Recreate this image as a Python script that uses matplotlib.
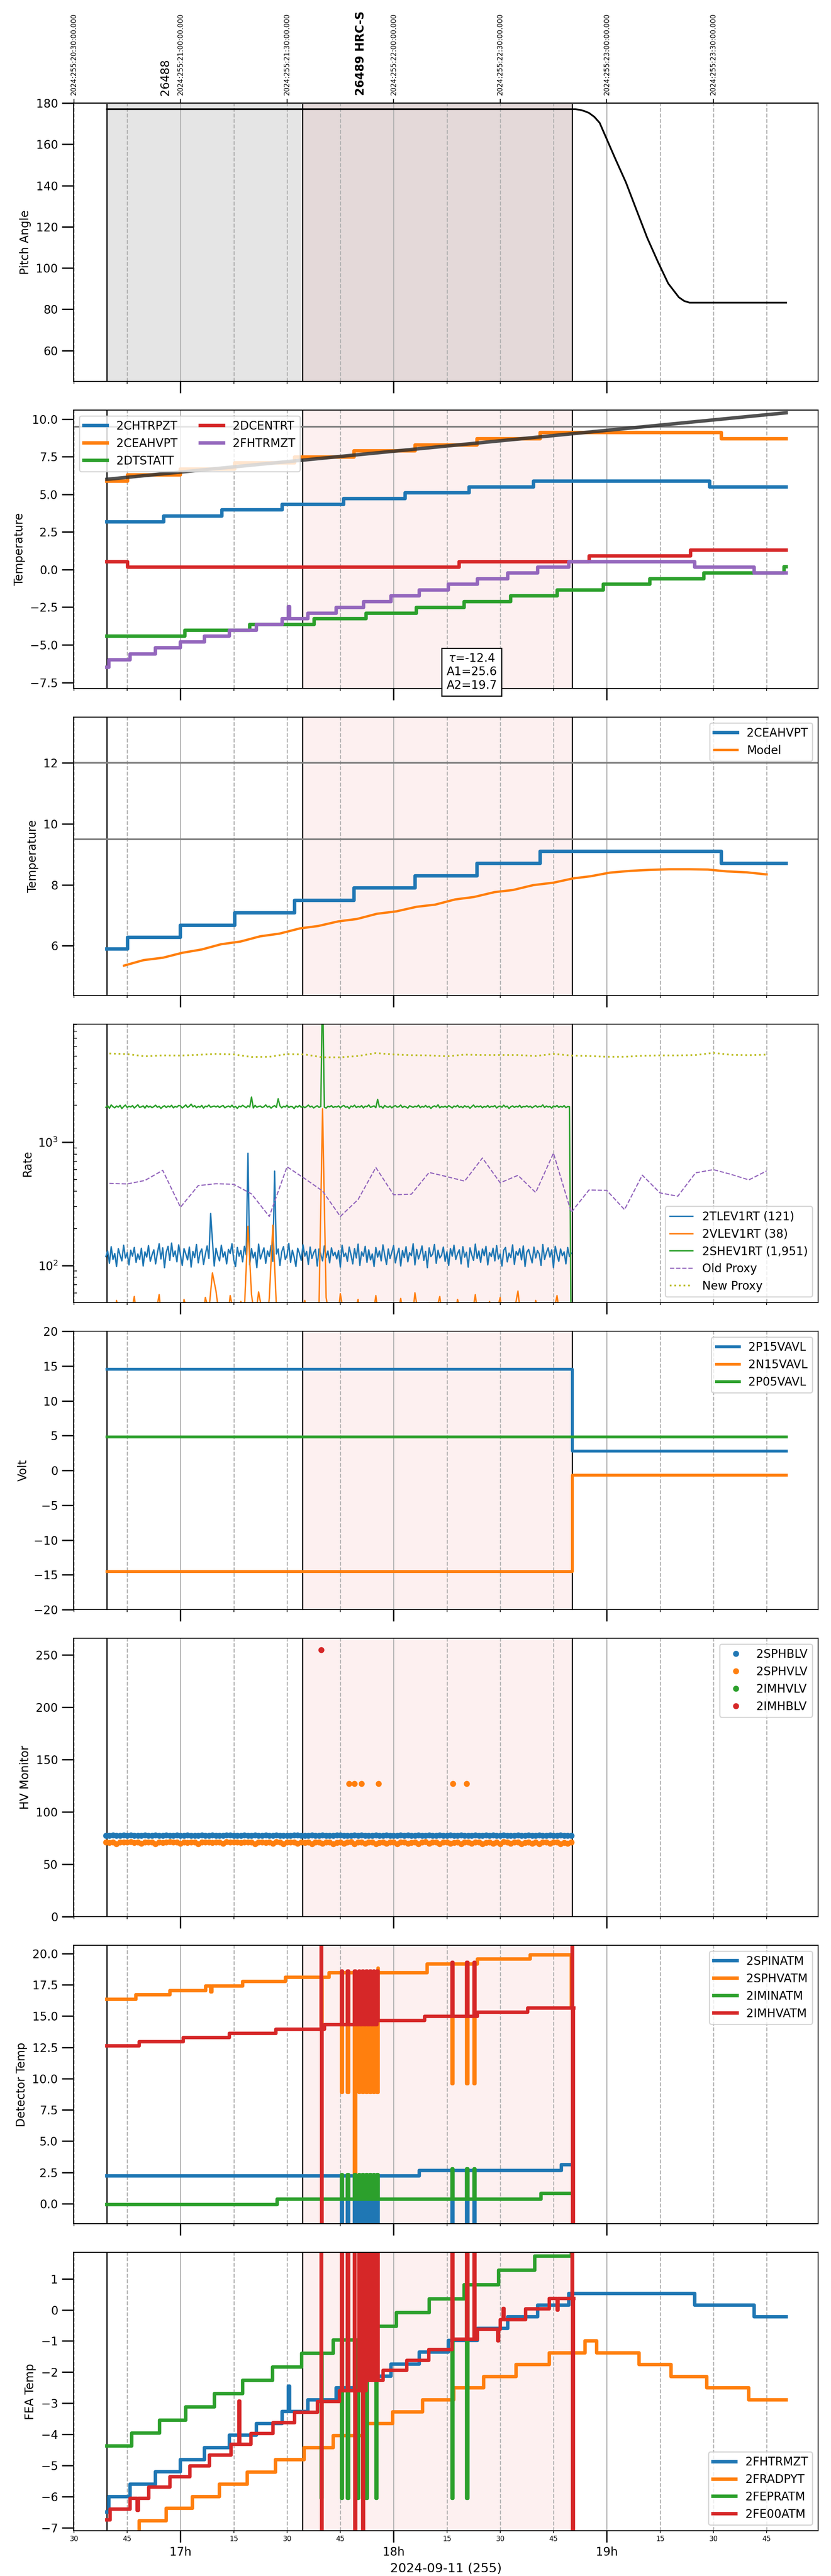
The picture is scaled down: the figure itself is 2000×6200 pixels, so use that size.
# HRC housekeeping dashboard around obsid 26489 (HRC-S), 2024-09-11

import matplotlib
matplotlib.use("Agg")
import matplotlib.pyplot as plt
import matplotlib.dates as mdates
import matplotlib.ticker as mticker
import numpy as np
import pandas as pd

# all times are minutes after 2024-09-11 16:30 local time (UTC-4)
t_start = pd.Timestamp("2024-09-11 16:30")
utc_offset_hours = 4
x_range = [-0.1, 209.5]

obs_edges = [9.3, 64.4, 140.2]
obs_names = ["26488", "26489 HRC-S"]
obs_name_t = [25.7, 80.7]

# pitch angle
pitch_t = [9.3, 141.2, 142.5, 143.7, 145.0, 146.5, 148.0, 150.2, 152.4, 155.4, 158.4,
           161.4, 164.4, 167.3, 170.3, 171.8, 173.3, 200.5]
pitch_v = [177.0, 177.0, 176.7, 176.1, 175.2, 173.3, 170.4, 161.7, 153.0, 141.5, 128.0,
           114.6, 103.0, 92.5, 85.8, 84.0, 83.2, 83.2]

# temperatures (step changes)
chtrpzt_t = [9.3, 25.3, 41.7, 58.6, 75.9, 93.2, 111.2, 129.4, 179.0, 200.5]
chtrpzt_v = [3.17, 3.56, 3.96, 4.34, 4.72, 5.11, 5.50, 5.89, 5.50, 5.50]
ceahvpt_t = [9.3, 15.1, 30.0, 45.3, 62.1, 78.8, 96.0, 113.5, 131.2, 182.3, 200.5]
ceahvpt_v = [5.89, 6.28, 6.67, 7.08, 7.49, 7.90, 8.29, 8.70, 9.10, 8.70, 8.70]
dtstatt_t = [9.3, 31.2, 49.5, 67.6, 82.3, 96.4, 109.9, 122.9, 136.0, 149.0, 162.1, 177.3, 199.9, 200.5]
dtstatt_v = [-4.43, -4.03, -3.65, -3.27, -2.89, -2.51, -2.13, -1.74, -1.36, -0.98, -0.60, -0.22, 0.18, 0.18]
dcentrt_t = [9.3, 15.1, 108.5, 145.0, 173.6, 200.5]
dcentrt_v = [0.53, 0.15, 0.53, 0.91, 1.29, 1.29]
fhtrmzt_t = [9.3, 9.9, 15.8, 22.9, 30.0, 36.7, 43.8, 51.4, 58.6, 65.9, 73.8, 81.5, 89.3, 97.2,
             105.4, 113.6, 122.1, 130.6, 139.3, 174.8, 191.5, 200.5]
fhtrmzt_v = [-6.5, -6.0, -5.6, -5.2, -4.82, -4.43, -4.03, -3.65, -3.27, -2.89, -2.51, -2.13,
             -1.74, -1.36, -0.98, -0.60, -0.22, 0.16, 0.53, 0.16, -0.22, -0.22]
fhtrmzt_gt = [60.4]
fhtrmzt_gv = [-2.45]
trend_t = [9.3, 200.5]
trend_v = [6.0, 10.42]
fit_text = "$\\tau$=-12.4\nA1=25.6\nA2=19.7"
fit_text_t = 112.0

# thermal model for 2CEAHVPT
model_t = [14.1, 19.6, 25.1, 30.5, 36.0, 41.4, 46.9, 52.4, 57.9, 63.6, 68.8, 74.4, 79.7, 85.3,
           90.8, 96.5, 101.7, 107.3, 112.6, 118.4, 123.6, 129.3, 135.0, 140.5, 145.4, 150.9,
           156.9, 162.1, 167.6, 173.3, 178.5, 183.8, 189.4, 195.0]
model_v = [5.35, 5.53, 5.61, 5.77, 5.88, 6.05, 6.14, 6.31, 6.40, 6.57, 6.65, 6.80, 6.88, 7.05,
           7.13, 7.28, 7.35, 7.52, 7.60, 7.76, 7.83, 7.99, 8.07, 8.21, 8.28, 8.40, 8.46, 8.49,
           8.51, 8.51, 8.50, 8.44, 8.41, 8.34]

# rates from 16:39; tlev and shev every 30 s, vlev every minute
rate_t0 = 9.0
tlev = [118, 131, 104, 142, 112, 125, 98, 137, 121, 109,
        146, 115, 127, 101, 133, 119, 140, 106, 124, 112,
        138, 99, 129, 117, 145, 108, 122, 134, 103, 126,
        150, 113, 139, 96, 128, 143, 110, 152, 118, 131,
        107, 147, 121, 100, 137, 124, 111, 141, 97, 130,
        116, 148, 105, 127, 136, 102, 123, 144, 114, 264,
        158, 99, 138, 120, 109, 146, 117, 129, 103, 135,
        125, 150, 111, 98, 140, 119, 132, 107, 143, 122,
        815, 101, 137, 115, 128, 96, 149, 113, 126, 139,
        104, 131, 118, 145, 108, 583, 124, 136, 100, 129,
        142, 112, 121, 151, 106, 133, 117, 98, 138, 125,
        110, 147, 119, 130, 102, 141, 114, 127, 135, 99,
        136, 123, 109, 144, 116, 131, 105, 139, 120, 128,
        113, 132, 97, 146, 118, 126, 108, 141, 122, 103,
        137, 115, 149, 100, 129, 119, 143, 106, 134, 111,
        124, 98, 140, 117, 131, 109, 147, 121, 102, 136,
        114, 128, 145, 105, 123, 138, 99, 132, 116, 142,
        107, 127, 120, 150, 101, 135, 113, 126, 144, 110,
        130, 96, 139, 118, 124, 148, 104, 133, 115, 121,
        141, 108, 129, 100, 137, 119, 146, 112, 125, 134,
        103, 142, 117, 128, 97, 139, 122, 110, 149, 114,
        131, 106, 136, 120, 143, 101, 127, 118, 138, 109,
        145, 113, 124, 99, 133, 140, 107, 126, 116, 147,
        102, 130, 121, 137, 111, 144, 98, 128, 135, 119,
        105, 141, 115, 132, 124, 100, 148, 112, 127, 139,
        117, 134, 96, 143, 122, 108, 136, 120, 129, 103,
        140, 118, 126]
vlev = [34, 41, 29, 52, 37, 45, 31, 39, 56, 33,
        42, 28, 47, 36, 40, 58, 30, 44, 35, 49,
        38, 26, 53, 41, 33, 46, 39, 31, 55, 43,
        87, 62, 37, 48, 32, 57, 40, 35, 51, 44,
        208, 58, 36, 61, 42, 30, 54, 212, 47, 39,
        33, 45, 38, 50, 29, 43, 52, 36, 41, 34,
        48, 1870, 55, 37, 44, 31, 59, 40, 35, 47,
        42, 53, 30, 39, 46, 36, 57, 33, 41, 49,
        28, 44, 38, 54, 35, 42, 31, 60, 39, 45,
        34, 50, 37, 43, 56, 32, 40, 47, 36, 53,
        41, 29, 46, 38, 58, 33, 44, 35, 51, 39,
        42, 55, 31, 48, 37, 43, 62, 34, 40, 46,
        36, 52, 39, 45, 30, 49, 41, 57, 35, 44,
        38, 43]
shev = [1925, 1980, 1890, 2010, 1945, 1905, 1970, 1930, 1995, 1880,
        1950, 2005, 1915, 1960, 1935, 1985, 1900, 1955, 2015, 1920,
        1940, 1975, 1895, 1990, 1930, 1965, 1910, 1950, 2000, 1925,
        1960, 1885, 1945, 1980, 1915, 1970, 1935, 1995, 1905, 1955,
        1930, 1990, 1975, 1900, 1950, 2010, 1920, 1960, 2040, 1940,
        1985, 1910, 1955, 1930, 1990, 1895, 1965, 1945, 2005, 1925,
        1950, 1970, 1935, 1975, 1915, 1960, 1990, 1905, 1945, 1970,
        1930, 2000, 1920, 1955, 1885, 1965, 1940, 1995, 1950, 1910,
        1980, 1935, 2330, 1900, 1995, 1925, 1955, 1970, 1915, 1945,
        2010, 1930, 1965, 1895, 1950, 1985, 1920, 2255, 1975, 1905,
        1960, 1935, 2000, 1915, 1955, 1945, 1880, 1970, 1930, 1990,
        1925, 1960, 1910, 1950, 2005, 1935, 1965, 1900, 1945, 1980,
        1920, 1955, 20000, 1930, 1895, 1960, 1940, 1985, 1915, 1950,
        1935, 1975, 1905, 1960, 1990, 1925, 1950, 1880, 1970, 1940,
        2000, 1915, 1955, 1930, 1985, 1900, 1965, 1945, 2010, 1920,
        1950, 1975, 1910, 2230, 1935, 1960, 1895, 1990, 1940, 1925,
        1970, 1905, 1955, 1985, 1930, 1945, 2005, 1915, 1960, 1935,
        1895, 1980, 1950, 1920, 1965, 1940, 2000, 1910, 1955, 1930,
        1990, 1925, 1960, 1885, 1945, 1975, 1935, 2015, 1905, 1950,
        1930, 1965, 1915, 1985, 1945, 1900, 1970, 1940, 1995, 1920,
        1955, 1910, 1980, 1935, 1960, 1890, 1950, 2005, 1925, 1965,
        1940, 1975, 1905, 1955, 1930, 1990, 1915, 1960, 1945, 1985,
        1900, 1950, 1970, 1925, 2000, 1935, 1965, 1880, 1945, 1975,
        1920, 1960, 1935, 1995, 1910, 1955, 1940, 1980, 1930, 1965,
        1905, 1950, 1985, 1925, 1960, 1945, 2010, 1915, 1970, 1935,
        1955, 1895, 1975, 1940, 1990, 1920, 1960, 1930, 1985, 1910,
        1950, 1945, 20]
# proxies, every 5 minutes from 16:40
proxy_t0 = 10.0
old_proxy = [464, 459, 490, 592, 297, 445, 461, 456, 381, 250, 633, 507, 402, 250, 343, 624,
             375, 379, 569, 526, 484, 746, 469, 539, 391, 816, 270, 410, 407, 284, 541, 388,
             365, 565, 600, 549, 495, 585]
new_proxy = [5260, 5200, 4990, 5075, 5060, 5130, 5220, 5165, 4930, 4945, 5200, 5165, 4895,
             4895, 5020, 5300, 5165, 5095, 5075, 4990, 5150, 5110, 5110, 5110, 5020, 5220,
             5060, 5020, 4945, 4945, 5040, 5075, 5075, 5110, 5320, 5130, 5095, 5150]

# voltages
volt_t = [9.3, 140.3, 200.5]
p15_v = [14.54, 2.8, 2.8]
n15_v = [-14.49, -0.63, -0.63]
p05_v = [4.86, 4.86, 4.86]

# HV monitors, one sample per minute from 16:39
hv_t0 = 9.0
sphblv = [77.6, 77.4, 77.8, 77.5, 77.3, 77.7, 77.5, 77.9, 77.4, 77.6,
          77.5, 77.8, 77.3, 77.6, 77.7, 77.4, 77.5, 77.9, 77.6, 77.3,
          77.7, 77.5, 77.4, 77.8, 77.6, 77.5, 77.3, 77.7, 77.6, 77.4,
          77.8, 77.5, 77.6, 77.3, 77.7, 77.9, 77.5, 77.4, 77.6, 77.8,
          77.5, 77.3, 77.7, 77.6, 77.4, 77.8, 77.5, 77.6, 77.9, 77.4,
          77.6, 77.5, 77.3, 77.7, 77.8, 77.5, 77.4, 77.6, 77.7, 77.5,
          77.3, 77.8, 77.6, 77.4, 77.5, 77.7, 77.9, 77.5, 77.6, 77.4,
          77.7, 77.5, 77.8, 77.3, 77.6, 77.5, 77.7, 77.4, 77.6, 77.8,
          77.5, 77.6, 77.4, 77.7, 77.3, 77.8, 77.5, 77.6, 77.9, 77.5,
          77.4, 77.7, 77.6, 77.5, 77.8, 77.3, 77.6, 77.7, 77.4, 77.5,
          77.8, 77.6, 77.5, 77.3, 77.7, 77.4, 77.6, 77.9, 77.5, 77.7,
          77.6, 77.4, 77.8, 77.5, 77.3, 77.6, 77.7, 77.5, 77.4, 77.8,
          77.6, 77.5, 77.7, 77.3, 77.6, 77.8, 77.4, 77.5, 77.7, 77.6,
          77.5, 77.4]
sphvlv = [71.0, 70.8, 71.2, 69.6, 71.1, 70.9, 71.0, 71.3, 70.7, 71.1,
          69.7, 71.0, 70.9, 71.2, 69.6, 71.0, 70.8, 71.1, 71.3, 70.9,
          71.0, 69.7, 71.2, 70.8, 71.0, 71.1, 69.6, 70.9, 71.2, 71.0,
          70.8, 71.1, 71.0, 69.7, 71.3, 70.9, 71.0, 71.2, 70.8, 71.1,
          71.0, 70.9, 69.6, 71.2, 71.0, 70.8, 71.1, 69.7, 71.3, 71.0,
          69.6, 70.9, 71.1, 71.0, 69.7, 71.2, 70.8, 71.0, 69.6, 71.1,
          70.9, 69.7, 71.2, 71.0, 69.6, 70.8, 71.1, 69.7, 71.0, 71.3,
          69.6, 70.9, 71.1, 69.7, 71.0, 71.2, 69.6, 70.8, 71.0, 69.7,
          71.1, 70.9, 69.6, 71.2, 71.0, 69.7, 70.8, 71.1, 69.6, 71.0,
          71.3, 69.7, 70.9, 71.1, 69.6, 71.0, 71.2, 69.7, 70.8, 71.0,
          69.6, 71.1, 70.9, 69.7, 71.2, 71.0, 69.6, 70.8, 71.1, 69.7,
          71.0, 69.6, 71.3, 70.9, 69.7, 71.1, 71.0, 69.6, 70.8, 71.2,
          69.7, 71.0, 69.6, 71.1, 70.9, 69.7, 71.0, 71.2, 69.6, 70.8,
          69.7, 71.0]
sphvlv_extra_t = [77.4, 79.0, 80.9, 85.7, 106.7, 110.6]
sphvlv_extra_v = [127, 127, 127, 127, 127, 127]
imhvlv_t = []
imhvlv_v = []
imhblv_t = [69.6]
imhblv_v = [255]

# detector temperatures (steps plus telemetry glitches)
burst_t = [75.3, 77.0, 79.0, 80.2, 81.2, 82.3, 83.3, 84.3, 85.3]
late_t = [106.4, 110.6, 112.6]
spinatm_t = [9.3, 97.2, 137.2, 140.0]
spinatm_v = [2.21, 2.65, 3.13, 3.13]
spinatm_gv = [-6, -6, -6, -6, -6, -6, -6, -6, -6, -6, -6, -6]
sphvatm_t = [9.3, 17.5, 27.0, 37.1, 47.5, 59.6, 71.8, 85.6, 99.4, 113.6, 128.5, 140.0]
sphvatm_v = [16.35, 16.70, 17.05, 17.41, 17.76, 18.11, 18.46, 18.82, 19.17, 19.56, 19.90, 15.7]
sphvatm_gv = [8.9, 8.9, 2.3, 8.9, 8.9, 8.9, 8.9, 8.9, 8.9, 9.6, 9.6, 9.6]
sphvatm_xt = [38.5, 69.6]
sphvatm_xv = [16.95, 14.2]
iminatm_t = [9.3, 57.2, 131.5, 140.0]
iminatm_v = [-0.07, 0.37, 0.82, 0.82]
iminatm_gv = [2.33, 2.33, 2.33, 2.33, 2.33, 2.33, 2.33, 2.33, 2.33, 2.78, 2.78, 2.78]
imhvatm_t = [9.3, 18.4, 30.8, 43.8, 56.9, 70.6, 85.3, 98.7, 113.6, 127.8, 140.0]
imhvatm_v = [12.61, 12.96, 13.30, 13.63, 13.96, 14.30, 14.65, 14.98, 15.31, 15.66, 15.66]
imhvatm_gv = [18.6, 18.6, 18.6, 18.6, 18.6, 18.6, 18.6, 18.6, 18.6, 19.3, 19.3, 19.3]
imhvatm_xt = [69.6, 69.7, 140.3, 140.4]
imhvatm_xv = [40, -20, 40, -20]

# FEA temperatures
fradpyt_t = [9.3, 18.4, 26.0, 33.3, 40.9, 48.8, 56.7, 64.8, 73.0, 81.5, 89.7, 98.2, 106.9,
             115.4, 124.5, 133.8, 143.9, 147.2, 159.1, 168.1, 178.1, 190.0, 200.5]
fradpyt_v = [-7.2, -6.78, -6.38, -6.0, -5.60, -5.21, -4.82, -4.43, -4.04, -3.66, -3.28, -2.89,
             -2.51, -2.14, -1.75, -1.38, -0.99, -1.38, -1.75, -2.14, -2.51, -2.89, -2.89]
fepratm_t = [9.3, 16.3, 24.1, 31.5, 39.6, 47.5, 55.9, 64.1, 73.0, 81.5, 90.8, 100.0, 109.9,
             119.6, 129.7, 140.0]
fepratm_v = [-4.37, -3.96, -3.54, -3.12, -2.69, -2.26, -1.84, -1.40, -0.97, -0.53, -0.09, 0.36,
             0.81, 1.27, 1.73, 2.5]
fepratm_gt = [69.6, 75.3, 77.0, 79.8, 82.3, 85.0, 106.4, 110.6]
fepratm_gv = [-6.06, -6.06, -6.06, -6.06, -6.06, -6.06, -6.06, -6.06]
fe00atm_t = [9.3, 10.2, 15.8, 21.1, 27.0, 32.6, 38.2, 44.2, 49.9, 56.0, 62.1, 68.5, 74.8, 81.5,
             87.0, 93.7, 99.9, 106.4, 113.6, 120.0, 127.1, 133.8, 140.0]
fe00atm_v = [-6.75, -6.4, -6.06, -5.70, -5.36, -5.02, -4.67, -4.32, -3.97, -3.63, -3.29, -2.95,
             -2.60, -2.27, -1.95, -1.62, -1.28, -0.94, -0.62, -0.31, 0.03, 0.37, 0.37]
fe00atm_gt = [17.8, 46.4, 69.6, 69.7, 75.3, 77.0, 79.0, 79.1, 80.2, 81.2, 81.3, 82.3, 83.3,
              84.3, 85.3, 106.4, 110.6, 112.6, 119.3, 120.8, 136.0, 140.3, 140.4]
fe00atm_gv = [-6.45, -2.93, 40, -20, 18.5, 18.5, 18.5, -10, 18.5, 18.5, -10, 18.5, 18.5,
              18.5, 18.5, 18.5, 18.5, 18.5, -1.0, 0.05, 0.0, 40, -20]


def when(mins):
    return (t_start + pd.to_timedelta(np.asarray(mins, dtype=float), unit="min")).to_numpy()


def when1(m):
    return mdates.date2num(when([m])[0])


def with_glitches(t_steps, v_steps, g_t, g_v, width=0.3):
    # add short excursions on top of a step series
    t = list(t_steps)
    v = list(v_steps)
    for gt, gv in zip(g_t, g_v):
        i = np.searchsorted(t_steps, gt, side="right") - 1
        t += [gt, gt + width]
        v += [gv, v_steps[i]]
    order = np.argsort(t, kind="stable")
    return when(np.asarray(t)[order]), np.asarray(v)[order]


fig, axes = plt.subplots(8, 1, sharex=True, figsize=(10, 31), dpi=200)
fig.subplots_adjust(left=0.0885, right=0.9845, top=0.96, bottom=0.01758, hspace=0.103)

for i, ax in enumerate(axes):
    if i == 0:
        ax.axvspan(when1(obs_edges[0]), when1(obs_edges[1]), color="#e5e5e5", lw=0)
        ax.axvspan(when1(obs_edges[1]), when1(obs_edges[2]), color="#e4d9d9", lw=0)
    else:
        ax.axvspan(when1(obs_edges[1]), when1(obs_edges[2]), color="#fdf0f0", lw=0)
    for e in obs_edges:
        ax.axvline(when1(e), color="k", lw=1)
    ax.grid(True, which="major", axis="x", color="#b0b0b0", lw=0.9)
    ax.grid(True, which="minor", axis="x", color="#b0b0b0", lw=0.9, ls="--")

# pitch
ax = axes[0]
ax.plot(when(pitch_t), pitch_v, color="k", lw=1.5)
ax.axhline(180, color="gray", lw=1.5)
ax.set_ylim(45, 180)
ax.set_ylabel("Pitch Angle")
for name, tm in zip(obs_names, obs_name_t):
    ax.text(when1(tm), 1.027, name, transform=ax.get_xaxis_transform(), rotation=90,
            ha="center", va="bottom", fontsize=10,
            fontweight="bold" if "HRC" in name else "normal")
sec = ax.secondary_xaxis("top", functions=(lambda x: x + utc_offset_hours / 24,
                                           lambda x: x - utc_offset_hours / 24))
sec.xaxis.set_major_locator(mdates.MinuteLocator(byminute=[0, 30]))
sec.xaxis.set_major_formatter(mticker.FuncFormatter(
    lambda x, pos: mdates.num2date(x).strftime("%Y:%j:%H:%M:%S.000")))
sec.tick_params(axis="x", labelrotation=90, labelsize=6, length=3.5)

# temperatures
ax = axes[1]
ax.plot(when(chtrpzt_t), chtrpzt_v, drawstyle="steps-post", lw=3, color="C0", label="2CHTRPZT")
ax.plot(when(ceahvpt_t), ceahvpt_v, drawstyle="steps-post", lw=3, color="C1", label="2CEAHVPT")
ax.plot(when(dtstatt_t), dtstatt_v, drawstyle="steps-post", lw=3, color="C2", label="2DTSTATT")
ax.plot(when(dcentrt_t), dcentrt_v, drawstyle="steps-post", lw=3, color="C3", label="2DCENTRT")
ft, fv = with_glitches(fhtrmzt_t, fhtrmzt_v, fhtrmzt_gt, fhtrmzt_gv)
ax.plot(ft, fv, drawstyle="steps-post", lw=3, color="C4", label="2FHTRMZT")
ax.plot(when(trend_t), trend_v, color="#333333", alpha=0.85, lw=3, zorder=3)
ax.axhline(9.5, color="gray", lw=1.5)
ax.set_ylim(-7.9, 10.6)
ax.set_ylabel("Temperature")
ax.legend(loc="upper left", ncol=2)
ax.text(when1(fit_text_t), -6.8, fit_text, ha="center", va="center", fontsize=10,
        bbox=dict(facecolor="white", edgecolor="black"))

# model comparison
ax = axes[2]
ax.plot(when(ceahvpt_t), ceahvpt_v, drawstyle="steps-post", lw=3, color="C0", label="2CEAHVPT")
ax.plot(when(model_t), model_v, lw=2, color="C1", label="Model")
ax.axhline(12, color="gray", lw=1.5)
ax.axhline(9.5, color="gray", lw=1.5)
ax.set_ylim(4.37, 13.5)
ax.set_ylabel("Temperature")
ax.legend(loc="upper right")

# rates
ax = axes[3]
fast_t = when(rate_t0 + 0.5 * np.arange(len(tlev)))
slow_t = when(rate_t0 + np.arange(len(vlev)))
pt = when(proxy_t0 + 5 * np.arange(len(old_proxy)))
ax.plot(fast_t, tlev, color="C0", lw=1.2, label="2TLEV1RT (121)")
ax.plot(slow_t, vlev, color="C1", lw=1.2, label="2VLEV1RT (38)")
ax.plot(fast_t, shev, color="C2", lw=1.2, label="2SHEV1RT (1,951)")
ax.plot(pt, old_proxy, color="C4", lw=1, ls="--", label="Old Proxy")
ax.plot(pt, new_proxy, color="C8", lw=1.5, ls=":", label="New Proxy")
ax.set_yscale("log")
ax.set_ylim(50, 9100)
ax.set_ylabel("Rate")
ax.legend(loc="lower right")

# voltages
ax = axes[4]
ax.plot(when(volt_t), p15_v, drawstyle="steps-post", lw=2.5, color="C0", label="2P15VAVL")
ax.plot(when(volt_t), n15_v, drawstyle="steps-post", lw=2.5, color="C1", label="2N15VAVL")
ax.plot(when(volt_t), p05_v, drawstyle="steps-post", lw=2.5, color="C2", label="2P05VAVL")
ax.set_ylim(-20, 20)
ax.set_ylabel("Volt")
ax.legend(loc="upper right")

# HV monitors
ax = axes[5]
hv_t = when(hv_t0 + np.arange(len(sphblv)))
ax.plot(hv_t, sphblv, "o", ms=4.2, color="C0", label="2SPHBLV")
ax.plot(np.concatenate([hv_t, when(sphvlv_extra_t)]), sphvlv + sphvlv_extra_v, "o", ms=4.2,
        color="C1", label="2SPHVLV")
ax.plot(when(imhvlv_t), imhvlv_v, "o", ms=4.2, color="C2", label="2IMHVLV")
ax.plot(when(imhblv_t), imhblv_v, "o", ms=4.2, color="C3", label="2IMHBLV")
ax.set_ylim(0, 266)
ax.set_ylabel("HV Monitor")
ax.legend(loc="upper right")

# detector temps
ax = axes[6]
gt, gv = with_glitches(spinatm_t, spinatm_v, burst_t + late_t, spinatm_gv)
ax.plot(gt, gv, drawstyle="steps-post", lw=3, color="C0", label="2SPINATM")
gt, gv = with_glitches(sphvatm_t, sphvatm_v, sphvatm_xt + burst_t + late_t,
                       sphvatm_xv + sphvatm_gv)
ax.plot(gt, gv, drawstyle="steps-post", lw=3, color="C1", label="2SPHVATM")
gt, gv = with_glitches(iminatm_t, iminatm_v, burst_t + late_t, iminatm_gv)
ax.plot(gt, gv, drawstyle="steps-post", lw=3, color="C2", label="2IMINATM")
gt, gv = with_glitches(imhvatm_t, imhvatm_v, burst_t + late_t + imhvatm_xt,
                       imhvatm_gv + imhvatm_xv)
ax.plot(gt, gv, drawstyle="steps-post", lw=3, color="C3", label="2IMHVATM")
ax.set_ylim(-1.6, 20.66)
ax.set_ylabel("Detector Temp")
ax.legend(loc="upper right")

# FEA temps
ax = axes[7]
ax.plot(ft, fv, drawstyle="steps-post", lw=3, color="C0", label="2FHTRMZT")
ax.plot(when(fradpyt_t), fradpyt_v, drawstyle="steps-post", lw=3, color="C1", label="2FRADPYT")
gt, gv = with_glitches(fepratm_t, fepratm_v, fepratm_gt, fepratm_gv)
ax.plot(gt, gv, drawstyle="steps-post", lw=3, color="C2", label="2FEPRATM")
gt, gv = with_glitches(fe00atm_t, fe00atm_v, fe00atm_gt, fe00atm_gv)
ax.plot(gt, gv, drawstyle="steps-post", lw=3, color="C3", label="2FE00ATM")
ax.set_ylim(-7.1, 1.85)
ax.set_ylabel("FEA Temp")
ax.legend(loc="lower right")
ax.set_xlabel("2024-09-11 (255)", fontsize=11)

ax.set_xlim(when1(x_range[0]), when1(x_range[1]))
ax.xaxis.set_major_locator(mdates.HourLocator())
ax.xaxis.set_major_formatter(mdates.DateFormatter("%Hh"))
ax.xaxis.set_minor_locator(mdates.MinuteLocator(byminute=[15, 30, 45]))
ax.xaxis.set_minor_formatter(mdates.DateFormatter("%M"))

for ax in axes:
    ax.tick_params(axis="both", which="major", length=10, width=1.2, labelsize=10)
    ax.tick_params(axis="x", which="minor", length=2, labelsize=6, pad=2)
    ax.tick_params(axis="y", which="minor", direction="in", length=3)

fig.savefig("out.png", dpi=200)
